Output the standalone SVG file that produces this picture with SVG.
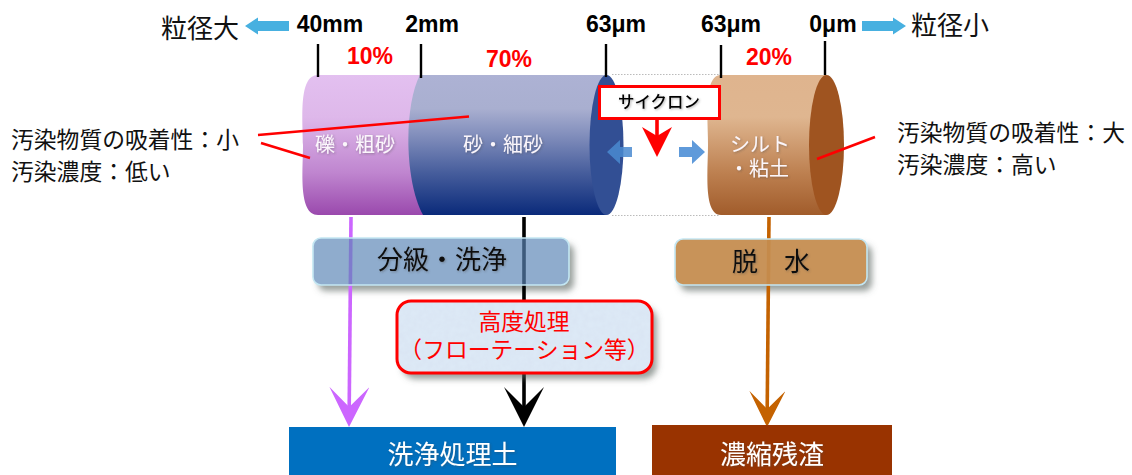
<svg xmlns="http://www.w3.org/2000/svg" width="1132" height="475" viewBox="0 0 1132 475">
<style>
text{font-family:"Noto Sans CJK JP","Noto Sans",sans-serif;text-anchor:middle}
.num{font-family:"Liberation Sans",Arial,sans-serif;font-weight:700;font-size:23px;fill:#000}
.pct{font-family:"Liberation Sans",Arial,sans-serif;font-weight:700;font-size:23px;fill:#f00}
.lab{font-size:22.8px;fill:#111;text-anchor:start}
.cyl{font-size:20px;fill:#fbf6fb;filter:url(#ts)}
.t26{font-size:26px;fill:#111;filter:url(#ts)}
.w26{font-size:26px;fill:#fff;filter:url(#ts)}
.red{font-size:22.8px;fill:#f00}
.tick{stroke:#000;stroke-width:2.4;fill:none}
.rl{stroke:#f00;stroke-width:2.6;fill:none}
.conn{fill:none;stroke-width:3.6}
.proc{stroke:#c3e6f2;stroke-width:1.6}
</style>
<defs>
<linearGradient id="gp" x1="0" y1="0" x2="0" y2="1"><stop offset="0" stop-color="#e3c0f0"/><stop offset=".3" stop-color="#deb8ea"/><stop offset=".7" stop-color="#bf85cf"/><stop offset="1" stop-color="#9a49ad"/></linearGradient>
<linearGradient id="gb" x1="0" y1="0" x2="0" y2="1"><stop offset="0" stop-color="#adb2d4"/><stop offset=".24" stop-color="#a9afd0"/><stop offset=".42" stop-color="#8490bd"/><stop offset=".7" stop-color="#465d9c"/><stop offset="1" stop-color="#0a2a7a"/></linearGradient>
<linearGradient id="gr" x1="0" y1="0" x2="0" y2="1"><stop offset="0" stop-color="#dfb48e"/><stop offset=".3" stop-color="#dfb690"/><stop offset=".7" stop-color="#bd8050"/><stop offset="1" stop-color="#a15c2b"/></linearGradient>
<filter id="sh" x="-10%" y="-20%" width="125%" height="150%"><feDropShadow dx="5" dy="6" stdDeviation="3" flood-color="#55605c" flood-opacity=".6"/></filter>
<filter id="ts" x="-5%" y="-10%" width="115%" height="130%"><feDropShadow dx="1" dy="1" stdDeviation=".8" flood-color="#444" flood-opacity=".4"/></filter>
<filter id="mott" x="0" y="0" width="100%" height="100%"><feTurbulence type="fractalNoise" baseFrequency=".18" numOctaves="3" seed="4"/><feColorMatrix values="0 0 0 0 .68  0 0 0 0 .76  0 0 0 0 .88  .9 0 0 0 -.22"/><feComposite in2="SourceGraphic" operator="in"/><feMerge><feMergeNode in="SourceGraphic"/><feMergeNode/></feMerge></filter>
<marker id="mp" markerUnits="userSpaceOnUse" markerWidth="40" markerHeight="40" refX="18" refY="18" orient="auto" viewBox="0 0 36 36"><path d="M0,0L36,18L0,36L18,18Z" fill="#cc66ff"/></marker>
<marker id="mk" markerUnits="userSpaceOnUse" markerWidth="40" markerHeight="40" refX="18" refY="18" orient="auto" viewBox="0 0 36 36"><path d="M0,0L36,18L0,36L18,18Z" fill="#000"/></marker>
<marker id="mo" markerUnits="userSpaceOnUse" markerWidth="36" markerHeight="36" refX="16" refY="16" orient="auto" viewBox="0 0 32 32"><path d="M0,0L32,16L0,32L16,16Z" fill="#c46200"/></marker>
</defs>
<rect width="1132" height="475" fill="#fff"/>

<g id="cylinders">
<path d="M612,74.5H720M612,215.5H720" stroke="#bbb" stroke-width="1" stroke-dasharray="1.5 1.5" fill="none"/>
<g id="cyl-gravel">
<path d="M318,75H426V215H318C298,215 303,170 303,145C303,120 298,75 318,75Z" fill="url(#gp)"/>
<text class="cyl" x="355" y="152">礫・粗砂</text>
</g>
<g id="cyl-sand">
<path d="M420,75H606V215H423C404,180 404,105 420,75Z" fill="url(#gb)"/>
<ellipse cx="606.500" cy="145" rx="17" ry="70" fill="#324f94"/>
<text class="cyl" x="503" y="152">砂・細砂</text>
</g>
<g id="cyl-silt">
<path d="M721,75H826V215H721C703,215 708,170 708,145C708,120 703,75 721,75Z" fill="url(#gr)"/>
<ellipse cx="826.500" cy="145" rx="17.500" ry="70" fill="#9f5420"/>
<text class="cyl" x="760" y="152">シルト</text>
<text class="cyl" x="759" y="176">・粘土</text>
</g>
</g>

<g id="process-backdrops">
<rect x="313" y="238" width="256" height="47" rx="8" fill="#fff" filter="url(#sh)"/>
<rect x="675" y="239" width="192" height="46" rx="8" fill="#fff" filter="url(#sh)"/>
</g>

<g id="connectors">
<g class="tick"><path d="M318,44V77M421,44V78M606,44V77M721,45V78M825,41V75"/></g>
<path class="conn" d="M351,217L349.200,407" stroke="#cc66ff" marker-end="url(#mp)"/>
<path class="conn" d="M524,217V407" stroke="#000" marker-end="url(#mk)"/>
<path class="conn" d="M769,217L767.200,409" stroke="#c46200" marker-end="url(#mo)"/>
<path class="rl" d="M258,135L469,116.500M261,143L310,158M817,159L875,137"/>
<path d="M289,21H258V17.500L245,26L258,34.500V31H289Z" fill="#47b0e0"/>
<path d="M862,21H893V17.500L906,26L893,34.500V31H862Z" fill="#47b0e0"/>
<path d="M632,147H620V140L607,152L620,164V157H632Z" fill="#4a8ad0" opacity=".85"/>
<path d="M679,147H692V140L705,152L692,164V157H679Z" fill="#5f9ada"/>
<path d="M657,119V140" stroke="#f00" stroke-width="3.600" fill="none"/>
<path d="M642,127L657,157L672,127L657,136Z" fill="#f00"/>
</g>

<g id="n-size-large"><text x="200" y="38" font-size="26" fill="#111">粒径大</text></g>
<g id="n-size-small"><text x="950" y="35" font-size="26" fill="#111">粒径小</text></g>
<g id="scale">
<text class="num" x="330" y="32">40mm</text>
<text class="num" x="432" y="32">2mm</text>
<text class="num" x="616" y="32">63μm</text>
<text class="num" x="731" y="32">63μm</text>
<text class="num" x="833" y="32">0μm</text>
<text class="pct" x="370" y="64">10%</text>
<text class="pct" x="509" y="67">70%</text>
<text class="pct" x="769" y="65">20%</text>
</g>

<g id="n-left-note">
<text class="lab" x="11" y="148">汚染物質の吸着性&#xFF1A;小</text>
<text class="lab" x="11" y="180">汚染濃度&#xFF1A;低い</text>
</g>
<g id="n-right-note">
<text class="lab" x="897" y="141">汚染物質の吸着性&#xFF1A;大</text>
<text class="lab" x="897" y="173">汚染濃度&#xFF1A;高い</text>
</g>

<g id="n-cyclone">
<rect x="599.500" y="86.500" width="120" height="32" fill="#fff" stroke="#f00" stroke-width="3"/>
<text x="659" y="108" font-size="16.500" font-weight="500" fill="#000" filter="url(#ts)">サイクロン</text>
</g>

<g id="n-classify">
<rect class="proc" x="313" y="238" width="256" height="47" rx="8" fill="#5a84b5" fill-opacity=".68"/>
<text class="t26" x="442" y="269">分級・洗浄</text>
</g>
<g id="n-dewater">
<rect class="proc" x="675" y="239" width="192" height="46" rx="8" fill="#c58c4f" fill-opacity=".94"/>
<text class="t26" x="771" y="271">脱&#x3000;水</text>
</g>
<g id="n-advanced">
<rect x="397" y="301" width="255" height="72" rx="14" fill="#dde9f6" filter="url(#sh)"/>
<rect x="397" y="301" width="255" height="72" rx="14" fill="#dde9f6" filter="url(#mott)"/>
<rect x="397" y="301" width="255" height="72" rx="14" fill="none" stroke="#f00" stroke-width="3"/>
<text class="red" x="524" y="330">高度処理</text>
<text class="red" x="524.500" y="358">&#xFF08;フローテーション等&#xFF09;</text>
</g>
<g id="n-clean-soil">
<rect x="289" y="427" width="327" height="48" fill="#0070c0"/>
<text class="w26" x="452.500" y="464">洗浄処理土</text>
</g>
<g id="n-residue">
<rect x="652" y="425" width="240" height="50" fill="#993300"/>
<text class="w26" x="772" y="464">濃縮残渣</text>
</g>
</svg>
